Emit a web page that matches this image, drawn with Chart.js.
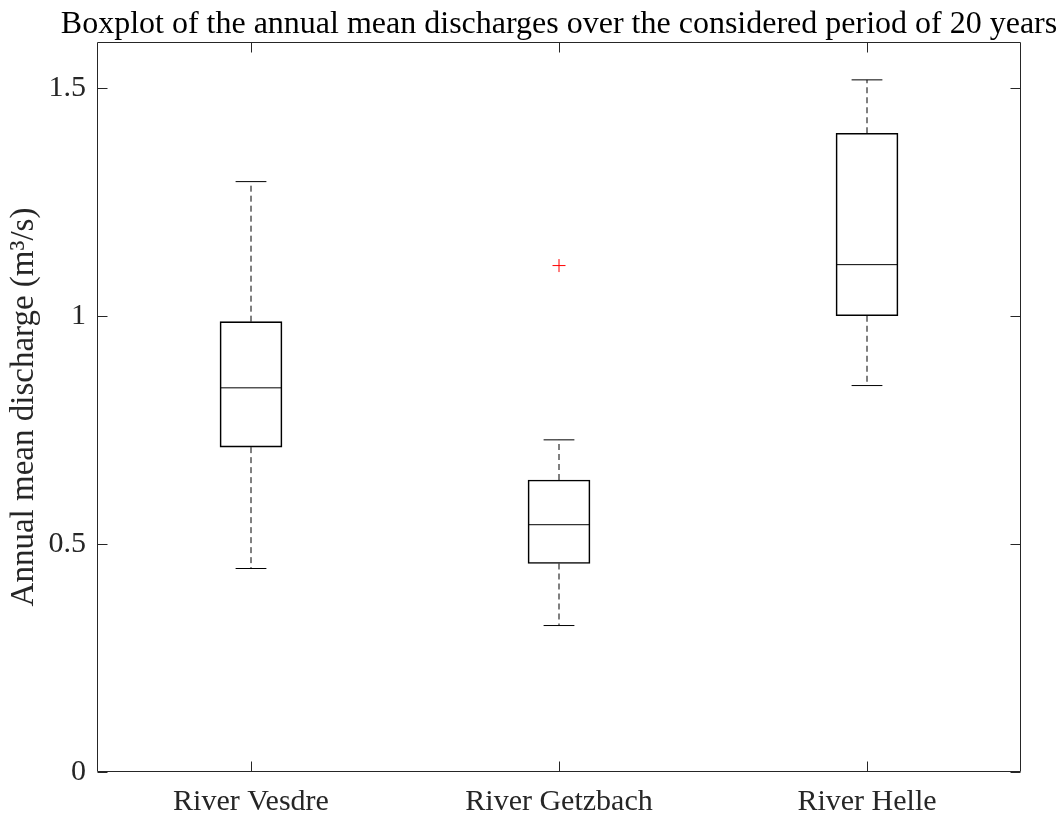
<!DOCTYPE html>
<html lang="en">
<head>
    <meta charset="UTF-8">
    <title>Boxplot of annual mean discharges</title>
    <script src="https://cdn.jsdelivr.net/npm/chart.js@4.4.1/dist/chart.umd.min.js"></script>
    <style>
        body {
            margin: 0;
            padding: 0;
            background-color: #ffffff;
        }
        .chart-container {
            position: relative;
            width: 1063px;
            height: 819px;
        }
    </style>
</head>
<body>
    <div class="chart-container">
        <canvas id="chart"></canvas>
    </div>

    <script>
        // box statistics (m3/s)
        const rivers = ['River Vesdre', 'River Getzbach', 'River Helle'];
        const whiskerLow = [0.446, 0.321, 0.847];
        const q1 = [0.712, 0.457, 1.000];
        const medians = [0.842, 0.542, 1.112];
        const q3 = [0.987, 0.640, 1.400];
        const whiskerHigh = [1.294, 0.728, 1.517];
        const outliers = [[], [1.110], []];
        const yTicks = [0, 0.5, 1, 1.5];

        const chartTitle = 'Boxplot of the annual mean discharges over the considered period of 20 years';
        const axisColor = '#262626';
        const fontFamily = "'Liberation Serif', 'Times New Roman', serif";
        const boxHalf = 0.1;   // half box width, in category units
        const capHalf = 0.05;  // half whisker cap width

        // build the line segments from the statistics, null y breaks the line
        const medianPts = [];
        const whiskerPts = [];
        const capPts = [];
        const outlierPts = [];
        rivers.forEach((name, i) => {
            const x = i + 1;
            medianPts.push({x: x - boxHalf, y: medians[i]}, {x: x + boxHalf, y: medians[i]}, {x: x, y: null});
            whiskerPts.push({x: x, y: q3[i]}, {x: x, y: whiskerHigh[i]}, {x: x, y: null});
            whiskerPts.push({x: x, y: q1[i]}, {x: x, y: whiskerLow[i]}, {x: x, y: null});
            capPts.push({x: x - capHalf, y: whiskerHigh[i]}, {x: x + capHalf, y: whiskerHigh[i]}, {x: x, y: null});
            capPts.push({x: x - capHalf, y: whiskerLow[i]}, {x: x + capHalf, y: whiskerLow[i]}, {x: x, y: null});
            outliers[i].forEach(v => outlierPts.push({x: x, y: v}));
        });

        // frame around the axes plus inward tick marks on all four sides,
        // and the title centred over the axes (wider than the plot, like matlab)
        const framePlugin = {
            id: 'matlabFrame',
            afterDraw(chart) {
                const ctx = chart.ctx;
                const a = chart.chartArea;
                const l = Math.round(a.left) + 0.5, r = Math.round(a.right) - 0.5;
                const t = Math.round(a.top) + 0.5, b = Math.round(a.bottom) - 0.5;
                const tl = 10;
                ctx.save();
                ctx.strokeStyle = axisColor;
                ctx.lineWidth = 1;
                ctx.beginPath();
                ctx.rect(l, t, r - l, b - t);
                chart.scales.y.ticks.forEach(tk => {
                    const y = Math.round(chart.scales.y.getPixelForValue(tk.value)) + 0.5;
                    ctx.moveTo(l, y); ctx.lineTo(l + tl, y);
                    ctx.moveTo(r, y); ctx.lineTo(r - tl, y);
                });
                chart.scales.x.ticks.forEach(tk => {
                    const x = Math.round(chart.scales.x.getPixelForValue(tk.value)) + 0.5;
                    ctx.moveTo(x, b); ctx.lineTo(x, b - tl);
                    ctx.moveTo(x, t); ctx.lineTo(x, t + tl);
                });
                ctx.stroke();

                ctx.fillStyle = '#000000';
                ctx.font = '32px ' + fontFamily;
                ctx.textAlign = 'center';
                ctx.textBaseline = 'alphabetic';
                ctx.fillText(chartTitle, (a.left + a.right) / 2, 33);
                ctx.restore();
            }
        };

        const ctx = document.getElementById('chart').getContext('2d');
        new Chart(ctx, {
            type: 'bar',
            data: {
                datasets: [
                    {
                        type: 'bar',
                        label: 'IQR box',
                        data: rivers.map((n, i) => ({x: i + 1, y: [q1[i], q3[i]]})),
                        backgroundColor: 'rgba(0,0,0,0)',
                        borderColor: '#000000',
                        borderWidth: 1,
                        borderSkipped: false,
                        barThickness: 62
                    },
                    {
                        type: 'line',
                        label: 'Median',
                        data: medianPts,
                        borderColor: '#000000',
                        borderWidth: 1,
                        pointRadius: 0,
                        spanGaps: false,
                        fill: false
                    },
                    {
                        type: 'line',
                        label: 'Whiskers',
                        data: whiskerPts,
                        borderColor: '#000000',
                        borderWidth: 1,
                        borderDash: [6, 4],
                        pointRadius: 0,
                        spanGaps: false,
                        fill: false
                    },
                    {
                        type: 'line',
                        label: 'Caps',
                        data: capPts,
                        borderColor: '#000000',
                        borderWidth: 1,
                        pointRadius: 0,
                        spanGaps: false,
                        fill: false
                    },
                    {
                        type: 'scatter',
                        label: 'Outliers',
                        data: outlierPts,
                        pointStyle: 'cross',
                        pointRadius: 6.5,
                        pointHoverRadius: 6.5,
                        borderColor: '#ff0000',
                        borderWidth: 1
                    }
                ]
            },
            options: {
                responsive: true,
                maintainAspectRatio: false,
                animation: false,
                layout: {
                    padding: {left: 0, right: 42, top: 42, bottom: 0}
                },
                plugins: {
                    legend: {display: false},
                    tooltip: {enabled: false}
                },
                scales: {
                    x: {
                        type: 'linear',
                        offset: false,
                        min: 0.5,
                        max: 3.5,
                        afterBuildTicks: axis => {
                            axis.ticks = rivers.map((n, i) => ({value: i + 1}));
                        },
                        afterFit: scale => { scale.height = 47; },
                        ticks: {
                            color: axisColor,
                            padding: 12,
                            maxRotation: 0,
                            font: {family: fontFamily, size: 30},
                            callback: value => rivers[value - 1]
                        },
                        grid: {display: false, drawTicks: false},
                        border: {display: false}
                    },
                    y: {
                        min: 0,
                        max: 1.6,
                        afterBuildTicks: axis => {
                            axis.ticks = yTicks.map(v => ({value: v}));
                        },
                        afterFit: scale => { scale.width = 97; },
                        ticks: {
                            color: axisColor,
                            padding: 11,
                            font: {family: fontFamily, size: 30},
                            callback: value => String(value)
                        },
                        grid: {display: false, drawTicks: false},
                        border: {display: false},
                        title: {
                            display: true,
                            text: 'Annual mean discharge (m³/s)',
                            color: axisColor,
                            font: {family: fontFamily, size: 33, lineHeight: 1.2},
                            padding: {top: 4.2, bottom: 0}
                        }
                    }
                }
            },
            plugins: [framePlugin]
        });
    </script>
</body>
</html>
